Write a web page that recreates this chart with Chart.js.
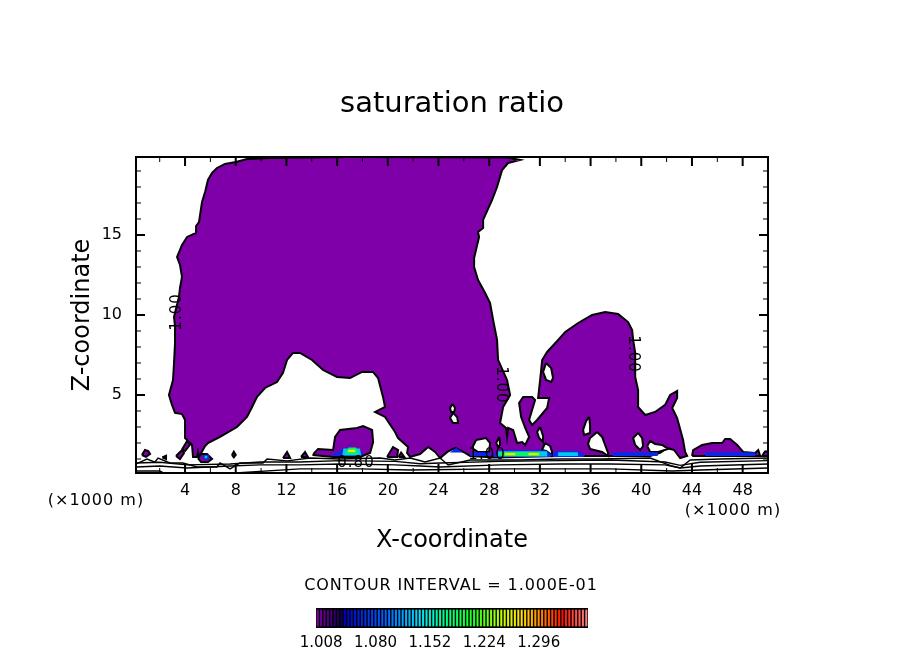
<!DOCTYPE html>
<html>
<head>
<meta charset="utf-8">
<title>saturation ratio</title>
<script src="https://cdn.jsdelivr.net/npm/chart.js@4/dist/chart.umd.min.js"></script>
<style>
  body { margin: 0; background: #fff; }
  #wrap { position: relative; width: 904px; height: 654px; overflow: hidden; }
  #plot { position: absolute; left: 0; top: 0; }
  #bar { position: absolute; left: 280px; top: 600px; }
</style>
</head>
<body>
<div id="wrap">
  <canvas id="plot" width="904" height="654"></canvas>
  <canvas id="bar" width="344" height="54"></canvas>
</div>
<script>
// --- axis ticks ---
const xMajorTicks = [4, 8, 12, 16, 20, 24, 28, 32, 36, 40, 44, 48];
const xMinorTicks = [2, 6, 10, 14, 18, 22, 26, 30, 34, 38, 42, 46];
const zMajorTicks = [5, 10, 15];
const zMinorTicks = [1, 2, 3, 4, 6, 7, 8, 9, 11, 12, 13, 14, 16, 17, 18, 19];

// --- contour 1.00 region, [x (km), z (km)] ---
const mainRegion = [
  [10.71,19.81],[17.02,19.88],[29.41,19.84],[30.44,19.69],[29.49,19.5],[29.02,19.06],[28.62,18.0],[28.23,17.19],
  [27.52,15.94],[27.52,15.44],[27.12,15.19],[27.2,14.88],[26.81,13.56],[26.81,13.0],[27.12,12.19],[27.68,11.38],
  [28.07,10.75],[28.31,9.69],[28.62,8.44],[28.7,7.19],[29.41,5.94],[29.65,5.0],[29.1,4.25],[28.86,3.25],
  [29.33,2.94],[29.41,2.38],[29.49,2.94],[29.89,2.81],[30.2,2.0],[30.6,2.06],[30.84,1.88],[31.15,2.38],
  [30.84,2.94],[30.52,3.63],[30.36,4.5],[30.68,4.88],[31.39,4.88],[31.62,4.69],[31.15,3.44],[31.39,3.13],
  [31.78,3.44],[32.57,4.19],[32.73,4.81],[31.86,4.81],[32.02,5.94],[32.18,7.19],[32.57,7.69],[33.44,8.44],
  [34.0,8.94],[35.02,9.5],[36.12,10.0],[37.15,10.19],[38.17,10.06],[38.96,9.56],[39.28,9.06],[39.36,8.44],
  [39.52,7.63],[39.52,6.13],[39.75,5.31],[39.75,4.25],[40.31,3.75],[41.09,3.94],[41.88,4.38],[42.28,5.0],
  [42.83,5.25],[42.83,4.81],[42.44,4.19],[42.83,3.56],[43.3,2.19],[43.46,1.44],[43.62,1.19],[43.07,1.06],
  [42.6,1.56],[42.04,1.69],[41.49,1.38],[40.7,1.19],[37.54,1.19],[33.6,1.19],[28.39,1.09],[26.5,1.19],
  [26.1,1.38],[25.32,1.69],[24.69,1.44],[24.13,1.06],[23.73,1.44],[23.18,1.75],[22.55,1.31],[21.76,1.13],
  [21.52,1.38],[21.6,1.75],[20.81,2.31],[20.57,2.69],[19.78,3.63],[19.0,3.94],[19.78,4.25],[19.62,4.88],
  [19.23,6.06],[18.83,6.44],[17.97,6.44],[17.02,6.06],[15.99,6.13],[14.89,6.56],[14.02,7.19],[13.07,7.63],
  [12.52,7.63],[12.05,7.19],[11.73,6.38],[11.26,5.81],[10.31,5.44],[9.68,4.88],[9.29,4.25],[8.89,3.63],
  [8.1,3.0],[6.76,2.38],[5.81,2.0],[5.58,1.81],[5.1,1.13],[5.02,1.44],[4.94,1.13],[4.63,1.13],
  [4.55,1.88],[4.16,2.19],[4.0,2.31],[4.0,3.44],[3.76,3.81],[3.21,3.88],[2.97,4.38],[2.73,5.0],
  [3.05,5.94],[3.13,7.0],[3.21,8.25],[3.21,9.25],[3.13,9.88],[3.52,11.13],[3.6,11.69],[3.76,12.38],
  [3.6,13.13],[3.37,13.63],[3.76,14.38],[4.16,14.88],[4.87,15.13],[4.87,15.56],[5.1,15.81],[5.34,17.06],
  [5.58,17.69],[5.81,18.44],[6.13,18.88],[6.52,19.19],[7.15,19.44],[8.02,19.56],[8.89,19.75],[10.71,19.81]
];
const moundAt17 = [[14.13,1.31],[14.5,1.63],[15.68,1.56],[15.84,2.38],[16.23,2.81],[17.57,2.94],[18.05,3.06],[18.76,2.81],[18.84,2.06],[18.6,1.38],[17.81,1.13],[15.68,1.13],[14.13,1.25],[14.13,1.31]];
const moundAt46 = [[44.01,1.19],[44.09,1.56],[44.8,1.88],[45.59,2.0],[46.38,2.0],[46.62,2.25],[47.01,2.25],[47.57,1.88],[48.04,1.44],[48.99,1.38],[49.23,1.56],[49.38,1.19],[44.01,1.19]];
const edgeBlob = [[49.78,1.5],[50,1.44],[50,1.19],[49.54,1.19],[49.78,1.5]];
const smallBlobs = [
  [[0.6,1.25],[0.84,1.56],[1.1,1.5],[1.24,1.31],[0.92,1.13],[0.6,1.25]],
  [[2.2,1.1],[2.5,1.2],[2.5,1.0],[2.2,1.1]],
  [[3.29,1.19],[3.76,1.56],[3.92,1.38],[3.6,1.0],[3.29,1.19]],
  [[3.76,1.6],[4.16,2.13],[4.4,1.9],[4.0,1.5],[3.76,1.6]],
  [[5.02,1.06],[5.26,1.31],[5.73,1.31],[6.13,1.0],[5.81,0.81],[5.26,0.81],[5.02,1.06]],
  [[7.7,1.25],[7.85,1.45],[8.0,1.25],[7.85,1.1],[7.7,1.25]],
  [[11.73,1.06],[12.05,1.44],[12.29,1.06],[11.73,1.06]],
  [[13.15,1.13],[13.47,1.44],[13.7,1.13],[13.15,1.13]],
  [[19.94,1.13],[20.41,1.75],[20.81,1.56],[20.73,1.13],[19.94,1.13]],
  [[20.85,1.13],[21.05,1.4],[21.3,1.13],[20.85,1.13]]
];

// --- white holes inside the region ---
const holes = [
  [[25.11,4.44],[25.31,4.19],[25.23,3.94],[24.99,3.94],[24.91,4.19],[25.11,4.44]],
  [[25.15,3.88],[25.47,3.63],[25.55,3.25],[25.15,3.25],[24.91,3.56],[25.15,3.88]],
  [[32.49,7.0],[32.89,6.69],[33.04,6.06],[32.89,5.81],[32.49,5.94],[32.25,6.44],[32.49,7.0]],
  [[32.02,3.0],[32.25,2.44],[32.25,2.06],[31.94,2.31],[31.78,2.69],[32.02,3.0]],
  [[35.89,3.63],[35.96,3.13],[35.96,2.63],[35.49,2.5],[35.41,2.81],[35.65,3.38],[35.89,3.63]],
  [[36.52,2.69],[36.91,2.38],[37.38,1.38],[37.38,1.19],[36.91,1.44],[35.96,1.63],[35.8,1.94],[35.96,2.31],[36.52,2.69]],
  [[32.41,2.0],[32.81,1.81],[32.96,1.44],[32.96,1.25],[32.49,1.5],[32.17,1.56],[32.41,2.0]],
  [[39.75,2.63],[40.07,2.31],[40.15,1.81],[39.91,1.56],[39.52,1.88],[39.36,2.31],[39.75,2.63]],
  [[40.47,1.81],[40.7,2.13],[41.09,1.94],[41.65,1.88],[42.12,1.63],[41.33,1.44],[40.7,1.44],[40.47,1.81]],
  [[26.97,2.19],[27.75,2.31],[28.07,2.0],[27.99,1.44],[27.12,1.44],[26.65,1.69],[26.97,2.19]],
  [[28.8,2.38],[28.86,1.9],[28.7,1.75],[28.55,2.0],[28.8,2.38]]
];

// --- supersaturated patches near the ground ---
const blueAreas = [
  [[28.39,1.13],[28.3,1.3],[29.0,1.55],[32.4,1.55],[33.0,1.25],[32.8,1.13],[28.39,1.13]],
  [[33.04,1.13],[33.04,1.45],[33.6,1.5],[35.0,1.5],[35.57,1.25],[35.4,1.13],[33.04,1.13]],
  [[37.7,1.19],[37.8,1.42],[41.3,1.42],[41.3,1.19],[37.7,1.19]],
  [[26.5,1.19],[26.6,1.42],[28.07,1.42],[28.07,1.19],[26.5,1.19]],
  [[24.9,1.4],[25.4,1.7],[25.95,1.4],[24.9,1.4]],
  [[16.23,1.19],[15.4,1.3],[16.2,1.5],[17.0,1.8],[18.05,1.4],[17.9,1.19],[16.23,1.19]],
  [[45.04,1.19],[45.04,1.42],[49.0,1.42],[49.0,1.19],[45.04,1.19]],
  [[5.42,1.0],[5.42,1.25],[5.9,1.25],[5.9,0.95],[5.42,1.0]]
];
const cyanAreas = [
  [[28.63,1.15],[28.7,1.48],[32.58,1.48],[32.58,1.15],[28.63,1.15]],
  [[33.44,1.19],[33.44,1.42],[35.0,1.42],[35.0,1.19],[33.44,1.19]],
  [[16.4,1.22],[16.5,1.65],[17.8,1.65],[17.9,1.22],[16.4,1.22]],
  [[5.55,1.05],[5.55,1.2],[5.75,1.2],[5.75,1.05],[5.55,1.05]]
];
const greenAreas = [
  [[28.86,1.18],[28.86,1.44],[32.0,1.44],[32.0,1.18],[28.86,1.18]],
  [[16.63,1.28],[16.9,1.72],[17.5,1.72],[17.65,1.28],[16.63,1.28]]
];
const yellowAreas = [
  [[29.25,1.24],[29.25,1.38],[30.05,1.38],[30.05,1.24],[29.25,1.24]],
  [[31.1,1.24],[31.1,1.38],[31.9,1.38],[31.9,1.24],[31.1,1.24]],
  [[16.87,1.44],[16.87,1.58],[17.42,1.58],[17.42,1.44],[16.87,1.44]]
];

// --- unfilled contours below 1.00 ---
const contour090 = [[0.13,0.69],[1.0,1.0],[1.63,0.81],[1.87,1.06],[2.81,0.75],[3.84,0.75],[4.94,0.5],[6.52,0.5],[6.76,0.75],[7.55,0.38],[8.34,0.75],[10.15,0.75],[10.47,1.0],[12.05,0.88],[13.86,1.06],[16.23,1.0],[19.39,1.06],[20.57,0.94],[21.76,1.06],[22.94,0.81],[24.13,1.06],[24.76,0.63],[26.5,0.94],[30.44,0.94],[33.6,1.0],[36.75,1.0],[40.7,1.06],[42.44,0.56],[43.07,0.44],[43.86,0.94],[46.22,1.0],[50,1.06]];
const contour080 = [[0.13,0.75],[2.0,0.8],[4.16,0.63],[7.55,0.69],[9.92,0.81],[13.07,0.81],[16.23,0.9],[20.57,0.85],[22.55,0.7],[24.13,0.75],[28.86,0.85],[33.6,0.9],[37.54,0.94],[41.88,0.81],[43.07,0.6],[44.65,0.8],[50,0.9]];
const contour070 = [[0.13,0.5],[2.0,0.56],[4.16,0.44],[7.55,0.56],[9.92,0.63],[13.07,0.63],[16.23,0.69],[20.57,0.63],[22.55,0.56],[24.13,0.5],[28.86,0.63],[33.6,0.69],[37.54,0.69],[41.88,0.63],[43.07,0.44],[44.65,0.56],[50,0.69]];
const contour060 = [[0.13,0.25],[2.0,0.25],[2.3,0.13],[8.0,0.13],[13.07,0.38],[17.81,0.38],[21.76,0.31],[28.86,0.38],[37.54,0.38],[42.44,0.25],[44.65,0.31],[50,0.44]];

// --- contour labels: text, x, z, rotation in degrees ---
const contourLabels = [
  ['1.00', 3.37, 10.19, -90],
  ['1.00', 28.94, 5.63, 90],
  ['1.00', 39.36, 7.56, 90],
  ['0.80', 17.49, 0.75, 0],
  ['1.00', 27.83, 1.25, 0]
];

// --- colour bar levels ---
const barLevels = [
  1.0035,1.008,1.0125,1.017,1.0215,1.026,1.0305,1.035,1.0395,1.044,1.0485,1.053,1.0575,1.062,1.0665,1.071,
  1.0755,1.08,1.0845,1.089,1.0935,1.098,1.1025,1.107,1.1115,1.116,1.1205,1.125,1.1295,1.134,1.1385,1.143,
  1.1475,1.152,1.1565,1.161,1.1655,1.17,1.1745,1.179,1.1835,1.188,1.1925,1.197,1.2015,1.206,1.2105,1.215,
  1.2195,1.224,1.2285,1.233,1.2375,1.242,1.2465,1.251,1.2555,1.26,1.2645,1.269,1.2735,1.278,1.2825,1.287,
  1.2915,1.296,1.3005,1.305,1.3095,1.314,1.3185,1.323,1.3275,1.332,1.3365,1.341,1.3455,1.35,1.3545,1.359
];
const barTickLevels = [1.008, 1.08, 1.152, 1.224, 1.296];
const barStops = [
  [0, [128,0,160]], [7, [16,0,80]], [8, [0,0,192]], [20, [0,96,255]], [30, [0,224,255]], [38, [0,255,128]],
  [46, [32,255,32]], [54, [192,255,0]], [60, [255,224,0]], [66, [255,128,0]], [72, [255,16,0]], [79, [255,128,128]]
];

const PURPLE = '#7f00a8';
const FONT = '"DejaVu Sans"';

function toPoints(pairs) {
  return pairs.map(p => ({ x: p[0], y: p[1] }));
}
function filled(pairs, color) {
  return { data: toPoints(pairs), showLine: true, fill: 'shape', backgroundColor: color, borderWidth: 0, pointRadius: 0 };
}
function outlined(pairs, color) {
  return { data: toPoints(pairs), showLine: true, fill: 'shape', backgroundColor: color, borderColor: '#000', borderWidth: 2, pointRadius: 0 };
}
function contour(pairs) {
  return { data: toPoints(pairs), showLine: true, fill: false, borderColor: '#000', borderWidth: 1.4, pointRadius: 0 };
}
function stripeColor(i) {
  let k = 0;
  while (k < barStops.length - 2 && barStops[k + 1][0] <= i) k++;
  const a = barStops[k], b = barStops[k + 1];
  const t = (i - a[0]) / (b[0] - a[0]);
  const c = a[1].map((v, n) => Math.round(v + (b[1][n] - v) * t));
  return `rgb(${c[0]},${c[1]},${c[2]})`;
}

// paint order: first entry is at the bottom
const paintList = [
  outlined(mainRegion, PURPLE),
  outlined(moundAt17, PURPLE),
  outlined(moundAt46, PURPLE),
  outlined(edgeBlob, PURPLE)
];
smallBlobs.forEach(b => paintList.push(outlined(b, PURPLE)));
holes.forEach(h => paintList.push(outlined(h, '#fff')));
blueAreas.forEach(a => paintList.push(filled(a, '#0a28e8')));
cyanAreas.forEach(a => paintList.push(filled(a, '#00c8f0')));
greenAreas.forEach(a => paintList.push(filled(a, '#10f060')));
yellowAreas.forEach(a => paintList.push(filled(a, '#e8f000')));
[contour090, contour080, contour070, contour060].forEach(c => paintList.push(contour(c)));

const frameAndLabels = {
  id: 'frameAndLabels',
  afterDatasetsDraw(chart) {
    const { ctx, chartArea: area, scales } = chart;
    const xs = scales.x, zs = scales.y;
    ctx.save();
    ctx.strokeStyle = '#000';

    function xTick(value, len, w) {
      const p = xs.getPixelForValue(value);
      ctx.lineWidth = w;
      ctx.beginPath();
      ctx.moveTo(p, area.bottom); ctx.lineTo(p, area.bottom - len);
      ctx.moveTo(p, area.top); ctx.lineTo(p, area.top + len);
      ctx.stroke();
    }
    function zTick(value, len, w) {
      const p = zs.getPixelForValue(value);
      ctx.lineWidth = w;
      ctx.beginPath();
      ctx.moveTo(area.left, p); ctx.lineTo(area.left + len, p);
      ctx.moveTo(area.right, p); ctx.lineTo(area.right - len, p);
      ctx.stroke();
    }
    xMajorTicks.forEach(v => xTick(v, 9, 2));
    xMinorTicks.forEach(v => xTick(v, 5, 1));
    zMajorTicks.forEach(v => zTick(v, 9, 2));
    zMinorTicks.forEach(v => zTick(v, 5, 1));

    ctx.lineWidth = 2;
    ctx.strokeRect(area.left, area.top, area.right - area.left, area.bottom - area.top);

    // contour labels
    ctx.fillStyle = '#000';
    ctx.textAlign = 'center';
    ctx.textBaseline = 'middle';
    ctx.font = `15px ${FONT}`;
    contourLabels.forEach(l => {
      ctx.save();
      ctx.translate(xs.getPixelForValue(l[1]), zs.getPixelForValue(l[2]));
      ctx.rotate(l[3] * Math.PI / 180);
      ctx.letterSpacing = '1px';
      ctx.fillText(l[0], 0, 0);
      ctx.restore();
    });

    // texts outside of the plot
    ctx.font = `16px ${FONT}`;
    ctx.letterSpacing = '1px';
    ctx.fillText('(×1000 m)', 96, 501);
    ctx.fillText('(×1000 m)', 733, 511);
    ctx.letterSpacing = '0.9px';
    ctx.fillText('CONTOUR INTERVAL = 1.000E-01', 451, 586);
    ctx.restore();
  }
};

new Chart(document.getElementById('plot'), {
  type: 'scatter',
  data: { datasets: paintList.slice().reverse() },
  plugins: [frameAndLabels],
  options: {
    responsive: false,
    animation: false,
    plugins: {
      legend: { display: false },
      tooltip: { enabled: false },
      title: {
        display: true,
        text: 'saturation ratio',
        color: '#000',
        font: { family: FONT, size: 29, weight: 'normal' },
        padding: { top: 87, bottom: 35.2 }
      }
    },
    scales: {
      x: {
        type: 'linear',
        min: 0.13,
        max: 50,
        grid: { display: false },
        border: { display: false },
        afterBuildTicks(scale) { scale.ticks = xMajorTicks.map(v => ({ value: v })); },
        afterFit(scale) { scale.height = 181; },
        ticks: { color: '#000', padding: 0, autoSkip: false, maxRotation: 0, font: { family: FONT, size: 16 } },
        title: {
          display: true,
          text: 'X-coordinate',
          color: '#000',
          font: { family: FONT, size: 24 },
          padding: { top: 0, bottom: 98.6 }
        }
      },
      y: {
        type: 'linear',
        min: 0.125,
        max: 19.875,
        grid: { display: false },
        border: { display: false },
        afterBuildTicks(scale) { scale.ticks = zMajorTicks.map(v => ({ value: v })); },
        afterFit(scale) { scale.width = 136; },
        ticks: { color: '#000', padding: 6, autoSkip: false, font: { family: FONT, size: 16 } },
        title: {
          display: true,
          text: 'Z-coordinate',
          color: '#000',
          font: { family: FONT, size: 24 },
          padding: { top: 68.6, bottom: 0 }
        }
      },
      // empty axis that only keeps the margin on the right, so the title stays centred on the page
      margin: {
        type: 'linear',
        position: 'right',
        grid: { display: false },
        border: { display: false },
        ticks: { display: false },
        afterFit(scale) { scale.width = 136; }
      }
    }
  }
});

// --- colour bar: one thin bar per level on a black strip ---
const barBackground = {
  id: 'barBackground',
  beforeDatasetsDraw(chart) {
    const { ctx, chartArea: a } = chart;
    ctx.save();
    ctx.fillStyle = '#000';
    ctx.fillRect(a.left, a.top, a.right - a.left, a.bottom - a.top);
    ctx.restore();
  }
};

new Chart(document.getElementById('bar'), {
  type: 'bar',
  data: {
    labels: barLevels,
    datasets: [{
      data: barLevels.map(() => 1),
      backgroundColor: barLevels.map((v, i) => stripeColor(i)),
      barPercentage: 0.6,
      categoryPercentage: 1
    }]
  },
  plugins: [barBackground],
  options: {
    responsive: false,
    animation: false,
    layout: { padding: { left: 36, right: 36, top: 8, bottom: 0 } },
    plugins: { legend: { display: false }, tooltip: { enabled: false } },
    scales: {
      x: {
        grid: { display: false },
        border: { display: false },
        afterFit(scale) { scale.height = 26; },
        ticks: {
          color: '#000',
          padding: -2,
          autoSkip: false,
          maxRotation: 0,
          font: { family: FONT, size: 15 },
          callback(value, index) {
            const level = barLevels[index];
            return barTickLevels.includes(level) ? level.toFixed(3) : '';
          }
        }
      },
      y: { display: false, min: -0.1, max: 1.1 }
    }
  }
});
</script>
</body>
</html>
